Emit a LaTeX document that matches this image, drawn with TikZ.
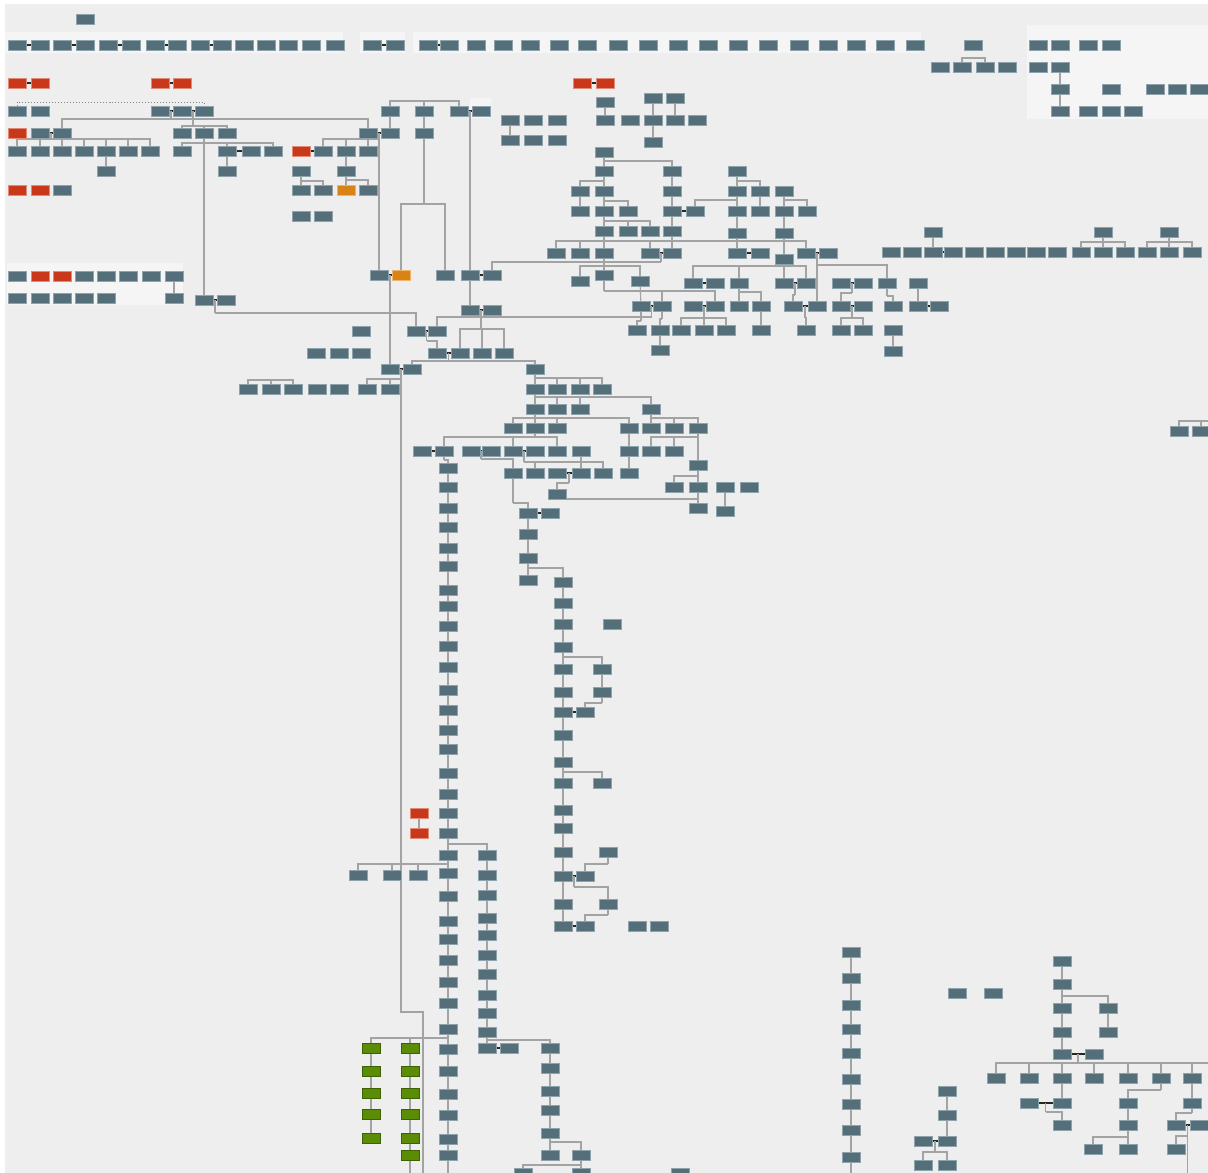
\documentclass[tikz,border=0pt]{standalone}
\usetikzlibrary{calc}
\definecolor{slate}{HTML}{546E7A}
\definecolor{slateB}{HTML}{8FA3AD}
\definecolor{redc}{HTML}{C9381B}
\definecolor{redB}{HTML}{E08A78}
\definecolor{orc}{HTML}{D98316}
\definecolor{orB}{HTML}{EDB46E}
\definecolor{grc}{HTML}{5B8C06}
\definecolor{grB}{HTML}{3D6300}
\definecolor{lineg}{HTML}{A3A3A3}
\definecolor{bgc}{HTML}{EEEEEE}
\definecolor{panelc}{HTML}{F5F5F5}
\pgfdeclarelayer{bgz}
\pgfdeclarelayer{background}
\pgfsetlayers{bgz,background,main}
\tikzset{
 bx/.style={rectangle, fill=slate, draw=slateB, line width=0.5pt, minimum width=18pt, minimum height=10pt, inner sep=0pt},
 rd/.style={bx, fill=redc, draw=redB},
 og/.style={bx, fill=orc, draw=orB},
 gr/.style={bx, fill=grc, draw=grB},
 pc/.style={draw=lineg, line width=1.1pt},
 cpst/.style={draw=black!85, line width=1.3pt},
 dt/.style={draw=gray, line width=1pt, dotted},
 pan/.style={fill=panelc}
}
\newcommand\famly[3]{\draw[pc] (#1) -- (#1 |- 0,#2);\foreach \cc in {#3}{\draw[pc] (\cc) |- (#1 |- 0,#2);}}
\newcommand\lk[2]{\draw[pc] (#1) -- (#2);}
\newcommand\cpl[3]{\draw[cpst] (#1) -- (#2); \coordinate (#3) at ($(#1)!.5!(#2)$);}
\begin{document}
\begin{tikzpicture}[x=1pt,y=-1pt]
\useasboundingbox (0,0) rectangle (1208,1173);
\begin{pgfonlayer}{bgz}
\fill[white] (0,0) rectangle (1208,1173);
\fill[bgc] (5,4) rectangle (1208,1173);
\fill[pan] (5,32) rectangle (343,53);
\fill[pan] (360,32) rectangle (405,53);
\fill[pan] (413,32) rectangle (921,53);
\fill[pan] (1027,25) rectangle (1208,119);
\fill[pan] (7,263) rectangle (183,305);
\fill[pan] (470,98) rectangle (491,118);
\end{pgfonlayer}
% slate nodes
\foreach \x/\y in {85/19,
17/45,40/45,62/45,85/45,108/45,131/45,155/45,177/45,200/45,222/45,244/45,266/45,288/45,311/45,335/45,
372/45,395/45,
428/45,449/45,476/45,503/45,530/45,559/45,587/45,618/45,648/45,678/45,708/45,738/45,768/45,799/45,828/45,856/45,885/45,915/45,
973/45,1038/45,1060/45,1088/45,1111/45,
940/67,962/67,985/67,1007/67,1038/67,1060/67,
1060/89,1111/89,1155/89,1177/89,1199/89,
1060/111,1088/111,1111/111,1133/111,
653/98,675/98,605/102,
17/111,40/111,160/111,182/111,204/111,390/111,424/111,459/111,481/111,
510/120,533/120,557/120,605/120,630/120,653/120,675/120,697/120,
40/133,62/133,182/133,204/133,227/133,368/133,390/133,424/133,
510/140,533/140,557/140,653/142,
17/151,40/151,62/151,84/151,106/151,128/151,150/151,182/151,227/151,251/151,273/151,323/151,346/151,368/151,
604/152,
106/171,227/171,301/171,346/171,604/171,672/171,737/171,
62/190,301/190,323/190,368/190,
580/191,604/191,672/191,737/191,760/191,784/191,
580/211,604/211,628/211,672/211,695/211,737/211,760/211,784/211,807/211,
301/216,323/216,
604/231,628/231,650/231,672/231,
933/232,1103/232,1169/232,
737/233,784/233,
891/252,912/252,933/252,953/252,974/252,995/252,1016/252,1036/252,1057/252,1081/252,1103/252,1125/252,1147/252,1169/252,1192/252,
556/253,580/253,604/253,650/253,672/253,737/253,760/253,806/253,828/253,
784/259,
379/275,445/275,470/275,492/275,604/275,
17/276,84/276,106/276,128/276,151/276,174/276,
580/281,640/281,
693/283,715/283,739/283,784/283,806/283,841/283,863/283,887/283,918/283,
17/298,40/298,62/298,84/298,106/298,174/298,
204/300,226/300,
641/306,662/306,693/306,715/306,739/306,761/306,793/306,817/306,841/306,863/306,893/306,918/306,939/306,
470/310,492/310,
637/330,660/330,681/330,704/330,726/330,761/330,806/330,841/330,863/330,893/330,
361/331,416/331,437/331,
660/350,893/351,
316/353,339/353,361/353,437/353,460/353,482/353,504/353,
390/369,412/369,535/369,
248/389,271/389,293/389,317/389,339/389,367/389,390/389,535/389,557/389,580/389,602/389,
535/409,557/409,580/409,651/409,
513/428,535/428,557/428,629/428,651/428,674/428,698/428,
1179/431,1201/431,
422/451,444/451,471/451,491/451,513/451,535/451,557/451,581/451,629/451,651/451,674/451,
698/465,
513/473,535/473,557/473,581/473,603/473,629/473,
674/487,698/487,725/487,749/487,
557/494,698/508,725/511,
528/513,550/513,528/534,528/558,528/580,
448/468,448/487,448/508,448/527,448/548,448/566,448/590,448/606,448/626,448/646,448/667,448/690,448/710,448/730,448/749,448/773,448/794,448/813,448/833,448/855,448/873,448/896,448/921,448/939,448/960,448/982,448/1003,448/1029,448/1049,448/1071,448/1094,448/1115,448/1139,448/1155,
487/855,487/875,487/895,487/918,487/935,487/955,487/974,487/995,487/1013,487/1032,487/1048,509/1048,
358/875,392/875,418/875,
550/1048,550/1068,550/1091,550/1110,550/1133,550/1155,581/1155,523/1173,581/1173,680/1173,
563/582,563/603,563/624,563/647,563/669,563/692,563/712,563/735,563/762,563/783,563/810,563/828,563/852,563/876,563/904,563/926,
612/624,602/669,602/692,585/712,602/783,608/852,585/876,608/904,585/926,637/926,659/926,
851/952,851/978,851/1005,851/1029,851/1053,851/1079,851/1104,851/1130,851/1157,
957/993,993/993,
947/1091,947/1115,923/1141,947/1141,923/1165,947/1165,
1062/961,1062/984,1062/1008,1108/1008,1062/1032,1108/1032,1062/1054,1094/1054,
996/1078,1029/1078,1062/1078,1094/1078,1128/1078,1161/1078,1192/1078,
1029/1103,1062/1103,1128/1103,1192/1103,
1062/1125,1128/1125,1176/1125,1199/1125,
1093/1149,1128/1149,1176/1149}
 \node[bx] (n\x x\y) at (\x,\y) {};
\foreach \x/\y in {17/83,40/83,160/83,182/83,582/83,605/83,17/133,301/151,17/190,40/190,40/276,62/276,419/813,419/833}
 \node[rd] (n\x x\y) at (\x,\y) {};
\foreach \x/\y in {346/190,401/275}
 \node[og] (n\x x\y) at (\x,\y) {};
\foreach \x/\y in {371/1048,371/1071,371/1093,371/1114,371/1138,410/1048,410/1071,410/1093,410/1114,410/1138,410/1155}
 \node[gr] (n\x x\y) at (\x,\y) {};
% free ends
\coordinate (k1) at (973.5,58);
\coordinate (k2) at (424,101);
\coordinate (k3) at (1208,421);
\coordinate (k5) at (423,1173);
\coordinate (k6) at (1208,1063);
\coordinate (k7) at (110,102);
\coordinate (e448) at (448,1173);
\coordinate (e410) at (410,1173);
\coordinate (e851) at (851,1173);
\begin{pgfonlayer}{background}
% top rows
\cpl{n17x45}{n40x45}{t1}\cpl{n62x45}{n85x45}{t2}\cpl{n108x45}{n131x45}{t3}
\cpl{n155x45}{n177x45}{t4}\cpl{n200x45}{n222x45}{t5}\cpl{n372x45}{n395x45}{t6}
\cpl{n428x45}{n449x45}{t7}
\cpl{n17x83}{n40x83}{t8}\cpl{n160x83}{n182x83}{t9}\cpl{n582x83}{n605x83}{t10}
\famly{k1}{58}{n962x67,n985x67}
\lk{n1060x67}{n1060x111}
% left tree
\draw[dt] (n17x111) |- (k7) -| (n204x111);
\cpl{n160x111}{n182x111}{m1}\cpl{n182x111}{n204x111}{m2}
\famly{m1}{119}{n62x133,n368x133}
\famly{m2}{126}{n182x133,n204x133,n227x133}
\cpl{n40x133}{n62x133}{m3}
\famly{m3}{139}{n17x151,n40x151,n62x151,n84x151,n106x151,n128x151,n150x151}
\lk{n106x151}{n106x171}
\famly{n204x133}{143}{n182x151,n227x151,n273x151}
\lk{n204x133}{n204x300}
\cpl{n227x151}{n251x151}{m30}
\lk{n227x151}{n227x171}
\lk{n390x111}{n390x133}
\cpl{n368x133}{n390x133}{m4}
\famly{m4}{139}{n323x151,n346x151,n368x151}
\lk{m4}{n379x275}
\cpl{n301x151}{n323x151}{m31}
\famly{n301x171}{181}{n301x190,n323x190}
\lk{n346x151}{n346x171}
\famly{n346x171}{180}{n346x190,n368x190}
\famly{k2}{101}{n390x111,n424x111,n459x111}
\lk{n424x111}{n424x133}
\famly{n424x133}{204}{n401x275,n445x275}
\cpl{n459x111}{n481x111}{m5}
\lk{m5}{n470x275}
\cpl{n379x275}{n401x275}{m6}
\lk{m6}{n390x369}
\cpl{n470x275}{n492x275}{m32}
\lk{n470x275}{n470x310}
\lk{n174x276}{n174x298}
% upper middle
\lk{n510x120}{n510x140}
\lk{n605x102}{n605x120}
\lk{n653x98}{n653x142}
\lk{n675x98}{n675x120}
\famly{n604x152}{161}{n604x171,n672x171}
\famly{n604x171}{181}{n580x191,n604x191}
\lk{n672x171}{n672x253}
\lk{n580x191}{n580x211}
\famly{n604x191}{201}{n604x211,n628x211}
\cpl{n672x211}{n695x211}{m33}
\famly{n737x171}{181}{n737x191,n760x191}
\famly{n737x191}{200}{n695x211,n737x211}
\lk{n760x191}{n760x211}
\famly{n784x191}{200}{n784x211,n807x211}
\lk{n737x211}{n737x253}
\lk{n784x211}{n784x259}
\famly{n604x211}{221}{n604x231,n628x231,n650x231}
\famly{n604x231}{241}{n556x253,n580x253,n604x253,n650x253,n806x253}
\cpl{n650x253}{n672x253}{m7}
\famly{m7}{262}{n492x275}
\cpl{n737x253}{n760x253}{m34}
\cpl{n806x253}{n828x253}{m8}
\famly{m8}{265}{n887x283}
\lk{m8}{n817x306}
\famly{n604x253}{266}{n580x281,n604x275,n640x281}
\famly{n604x275}{291}{n662x306,n715x306}
\lk{n640x281}{n641x306}
\cpl{n641x306}{n662x306}{m9}
\famly{m9}{317}{n437x331}
\famly{n784x259}{266}{n693x283,n739x283,n784x283,n806x283}
\cpl{n693x283}{n715x283}{m10}
\cpl{n784x283}{n806x283}{m11}
\famly{m11}{295}{n793x306}
\cpl{n841x283}{n863x283}{m12}
\famly{m12}{293}{n841x306}
\famly{n739x283}{292}{n739x306,n761x306}
\cpl{n693x306}{n715x306}{m13}
\famly{m13}{318}{n681x330,n704x330,n726x330}
\famly{n662x306}{319}{n660x330}
\lk{n660x330}{n660x350}
\famly{n641x306}{321}{n637x330}
\lk{n761x306}{n761x330}
\cpl{n793x306}{n817x306}{m14}
\famly{m14}{318}{n806x330}
\cpl{n841x306}{n863x306}{m15}
\famly{m15}{318}{n841x330,n863x330}
\famly{n887x283}{296}{n893x306}
\lk{n893x330}{n893x351}
\lk{n918x283}{n918x306}
\cpl{n918x306}{n939x306}{m35}
\lk{n933x232}{n933x252}
\cpl{n933x252}{n953x252}{m36}
\famly{n1103x232}{242}{n1081x252,n1103x252,n1125x252}
\famly{n1169x232}{242}{n1147x252,n1169x252,n1192x252}
\draw[pc] (n1179x431) |- (k3);
\draw[pc] (n1201x431) -- (n1201x431 |- k3);
% middle
\cpl{n204x300}{n226x300}{m16}
\famly{m16}{313}{n416x331}
\cpl{n416x331}{n437x331}{m17}
\famly{m17}{341}{n437x353}
\cpl{n470x310}{n492x310}{m18}
\famly{m18}{329}{n460x353,n482x353,n504x353}
\cpl{n437x353}{n460x353}{m19}
\famly{m19}{361}{n412x369,n535x369}
\cpl{n390x369}{n412x369}{m20}
\famly{m20}{379}{n367x389,n390x389}
\draw[pc] (m20) -- (m20 |- 0,1012) -| (k5);
\famly{n271x389}{380}{n248x389,n293x389}
\famly{n535x369}{378}{n535x389,n557x389,n580x389,n602x389}
\famly{n535x389}{397}{n535x409,n557x409,n580x409,n651x409}
\famly{n535x409}{418}{n513x428,n535x428,n557x428,n629x428}
\famly{n651x409}{418}{n651x428,n674x428,n698x428}
\famly{n535x428}{437}{n444x451,n513x451,n557x451}
\famly{n698x428}{437}{n651x451,n674x451}
\lk{n629x428}{n629x473}
\cpl{n422x451}{n444x451}{m37}
\famly{n444x451}{460}{n448x468}
\cpl{n471x451}{n491x451}{m21}
\famly{m21}{459}{n513x473}
\cpl{n513x451}{n535x451}{m22}
\famly{m22}{462}{n535x473,n603x473}
\lk{n581x451}{n581x473}
\cpl{n557x473}{n581x473}{m23}
\famly{m23}{483}{n557x494}
\lk{n698x428}{n698x465}
\famly{n698x465}{476}{n674x487,n698x487}
\lk{n698x487}{n698x508}
\lk{n725x487}{n725x511}
\famly{n557x494}{499}{n698x508}
\famly{n513x473}{503}{n528x513}
\cpl{n528x513}{n550x513}{m38}
\lk{n528x513}{n528x558}
\famly{n528x558}{568}{n528x580,n563x582}
% long columns
\lk{n448x468}{e448}
\lk{n419x813}{n419x833}
\famly{n448x833}{844}{n487x855}
\famly{n448x855}{864}{n358x875,n392x875,n418x875}
\lk{n487x855}{n487x1048}
\cpl{n487x1048}{n509x1048}{m39}
\famly{n487x1032}{1040}{n487x1048,n550x1048}
\lk{n550x1048}{n550x1133}
\famly{n550x1133}{1142}{n550x1155,n581x1155}
\famly{n581x1155}{1165}{n523x1173,n581x1173}
\famly{n448x1029}{1038}{n371x1048,n410x1048}
\lk{n371x1048}{n371x1138}
\lk{n410x1048}{e410}
\lk{n563x582}{n563x926}
\famly{n563x647}{657}{n602x669}
\lk{n602x669}{n602x692}
\famly{n602x692}{703}{n585x712}
\cpl{n563x712}{n585x712}{m40}
\famly{n563x762}{772}{n602x783}
\famly{n608x852}{864}{n585x876}
\cpl{n563x876}{n585x876}{m24}
\famly{m24}{887}{n608x904}
\famly{n608x904}{915}{n585x926}
\cpl{n563x926}{n585x926}{m41}
% bottom right
\lk{n851x952}{e851}
\lk{n947x1091}{n947x1141}
\cpl{n923x1141}{n947x1141}{m25}
\famly{m25}{1152}{n923x1165,n947x1165}
\lk{n1062x961}{n1062x984}
\famly{n1062x984}{996}{n1062x1008,n1108x1008}
\lk{n1062x1008}{n1062x1054}
\lk{n1108x1008}{n1108x1032}
\cpl{n1062x1054}{n1094x1054}{m26}
\famly{m26}{1063}{n996x1078,n1029x1078,n1062x1078,n1094x1078,n1128x1078,n1161x1078,n1192x1078}
\draw[pc] (m26 |- k6) -- (k6);
\lk{n1062x1078}{n1062x1103}
\cpl{n1029x1103}{n1062x1103}{m27}
\famly{m27}{1112}{n1062x1125}
\famly{n1161x1078}{1090}{n1128x1103}
\lk{n1128x1103}{n1128x1125}
\famly{n1128x1125}{1137}{n1093x1149,n1128x1149}
\lk{n1192x1078}{n1192x1103}
\famly{n1192x1103}{1113}{n1176x1125}
\cpl{n1176x1125}{n1199x1125}{m28}
\famly{m28}{1136}{n1176x1149}
\draw[pc] (m28) -- (m28 |- 0,1173);
\end{pgfonlayer}
\end{tikzpicture}
\end{document}
